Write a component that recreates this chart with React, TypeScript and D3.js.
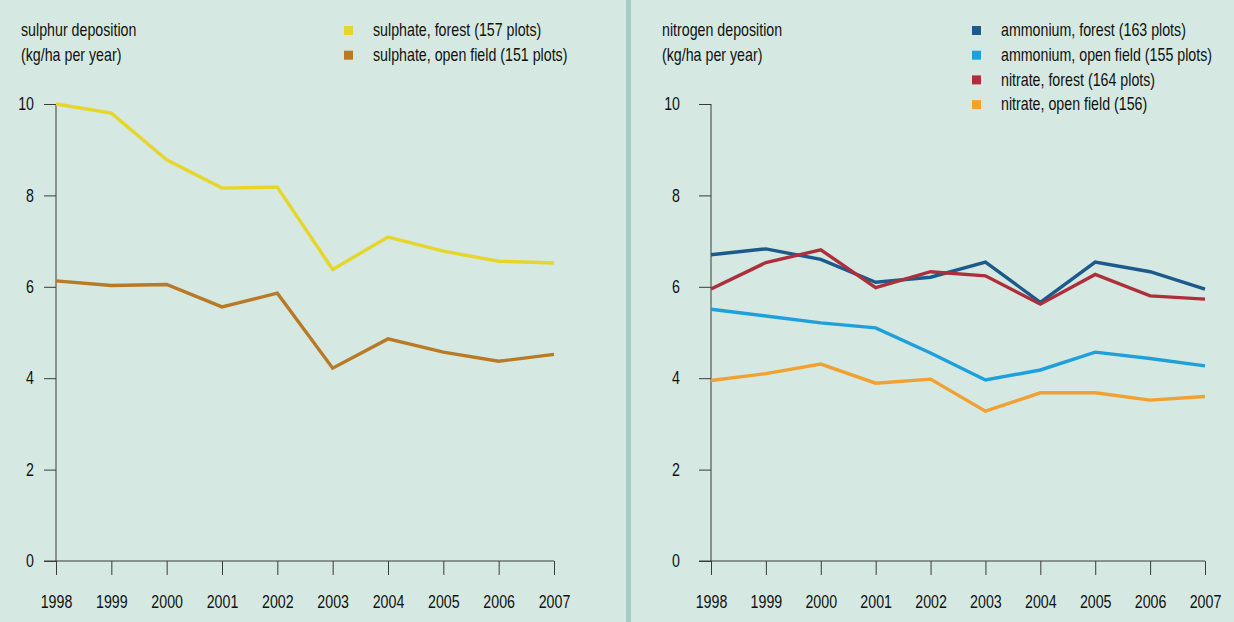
import { useEffect, useRef } from 'react';
import * as d3 from 'd3';

const YEARS = [1998, 1999, 2000, 2001, 2002, 2003, 2004, 2005, 2006, 2007];
const Y_TICKS = [0, 2, 4, 6, 8, 10];

const sulphateForest = [10.0, 9.8, 8.78, 8.16, 8.18, 6.38, 7.09, 6.78, 6.56, 6.52];
const sulphateOpen = [6.13, 6.03, 6.05, 5.56, 5.86, 4.22, 4.86, 4.57, 4.37, 4.52];

const ammoniumForest = [6.70, 6.83, 6.60, 6.10, 6.21, 6.54, 5.66, 6.54, 6.33, 5.95];
const ammoniumOpen = [5.51, 5.36, 5.21, 5.10, 4.55, 3.96, 4.18, 4.57, 4.43, 4.27];
const nitrateForest = [5.95, 6.53, 6.81, 5.98, 6.33, 6.24, 5.62, 6.27, 5.80, 5.73];
const nitrateOpen = [3.95, 4.10, 4.31, 3.89, 3.98, 3.28, 3.68, 3.68, 3.52, 3.60];

interface Series {
  label: string;
  color: string;
  values: number[];
}

const LEFT_SERIES: Series[] = [
  { label: 'sulphate, forest (157 plots)', color: '#e6d62c', values: sulphateForest },
  { label: 'sulphate, open field (151 plots)', color: '#b87a26', values: sulphateOpen },
];

const RIGHT_SERIES: Series[] = [
  { label: 'ammonium, forest (163 plots)', color: '#1b5a8b', values: ammoniumForest },
  { label: 'ammonium, open field (155 plots)', color: '#1f9fdb', values: ammoniumOpen },
  { label: 'nitrate, forest (164 plots)', color: '#ae2f3c', values: nitrateForest },
  { label: 'nitrate, open field (156)', color: '#f1a032', values: nitrateOpen },
];

// no condensed face installed, so squeeze Liberation Sans horizontally
const FONT = '"Liberation Sans", Arial, sans-serif';
const SQUEEZE = 0.79;
const FS = 18;
const BG = '#d5e9e2';
const AXIS = '#3a3a3a';
const INK = '#111';

interface PanelSpec {
  title: string[];
  series: Series[];
  x0: number;
  x1: number;
  titleX: number;
  legendX: number;
  yPad: number;
}

const PANELS: PanelSpec[] = [
  { title: ['sulphur deposition', '(kg/ha per year)'], series: LEFT_SERIES, x0: 56, x1: 554, titleX: 21, legendX: 344, yPad: 10 },
  { title: ['nitrogen deposition', '(kg/ha per year)'], series: RIGHT_SERIES, x0: 711, x1: 1205, titleX: 662, legendX: 972, yPad: 19 },
];

function Panel({ spec }: { spec: PanelSpec }) {
  const ref = useRef<SVGGElement>(null);

  useEffect(() => {
    const g = d3.select(ref.current);
    g.selectAll('*').remove();

    const x = d3.scaleLinear().domain([YEARS[0], YEARS[YEARS.length - 1]]).range([spec.x0, spec.x1]);
    const y = d3.scaleLinear().domain([0, 10]).range([561, 104]);
    const tickLen = 12;

    // y axis
    const ya = g.append('g')
      .attr('transform', `translate(${spec.x0},0)`)
      .call(d3.axisLeft(y).tickValues(Y_TICKS).tickSize(tickLen).tickPadding(spec.yPad).tickFormat(d3.format('d')));
    ya.select('.domain').remove();
    ya.append('line').attr('x1', 0).attr('x2', 0).attr('y1', y(10)).attr('y2', y(0)).attr('stroke', AXIS);
    ya.selectAll('.tick text')
      .attr('x', -(tickLen + spec.yPad) / SQUEEZE)
      .attr('transform', `scale(${SQUEEZE},1)`);

    // x axis
    const xa = g.append('g')
      .attr('transform', `translate(0,${y(0)})`)
      .call(d3.axisBottom(x).tickValues(YEARS).tickSize(14).tickPadding(20).tickFormat(d3.format('d')));
    xa.select('.domain').remove();
    xa.append('line').attr('x1', spec.x0 - tickLen).attr('x2', spec.x1).attr('y1', 0).attr('y2', 0).attr('stroke', AXIS);
    xa.selectAll('.tick text').attr('transform', `scale(${SQUEEZE},1)`);

    g.selectAll('.tick line').attr('stroke', AXIS);
    g.selectAll('.tick text')
      .attr('fill', INK)
      .attr('font-size', FS)
      .attr('font-family', FONT);

    const line = d3.line<number>()
      .x((_, i) => x(YEARS[i]))
      .y((d) => y(d));

    spec.series.forEach((s) => {
      g.append('path')
        .datum(s.values)
        .attr('d', line)
        .attr('fill', 'none')
        .attr('stroke', s.color)
        .attr('stroke-width', 3.4)
        .attr('stroke-linejoin', 'miter');
    });

    // titles
    spec.title.forEach((t, i) => {
      g.append('text')
        .attr('transform', `translate(${spec.titleX},${36 + i * 25}) scale(${SQUEEZE},1)`)
        .attr('font-size', FS)
        .attr('font-family', FONT)
        .attr('fill', INK)
        .text(t);
    });

    // legend
    spec.series.forEach((s, i) => {
      const cy = 30 + i * 24.7;
      g.append('rect')
        .attr('x', spec.legendX)
        .attr('y', cy - 4)
        .attr('width', 9)
        .attr('height', 9)
        .attr('fill', s.color);
      g.append('text')
        .attr('transform', `translate(${spec.legendX + 29},${cy}) scale(${SQUEEZE},1)`)
        .attr('dy', '0.35em')
        .attr('font-size', FS)
        .attr('font-family', FONT)
        .attr('fill', INK)
        .text(s.label);
    });
  }, [spec]);

  return <g ref={ref} />;
}

export default function App() {
  return (
    <div style={{ position: 'fixed', left: 0, top: 0 }}>
      <svg width={1234} height={622} style={{ display: 'block' }}>
        <rect x={0} y={0} width={1234} height={622} fill={BG} />
        <rect x={626} y={0} width={5} height={622} fill="#a6cdc1" />
        {PANELS.map((p, i) => (
          <Panel key={i} spec={p} />
        ))}
      </svg>
    </div>
  );
}
